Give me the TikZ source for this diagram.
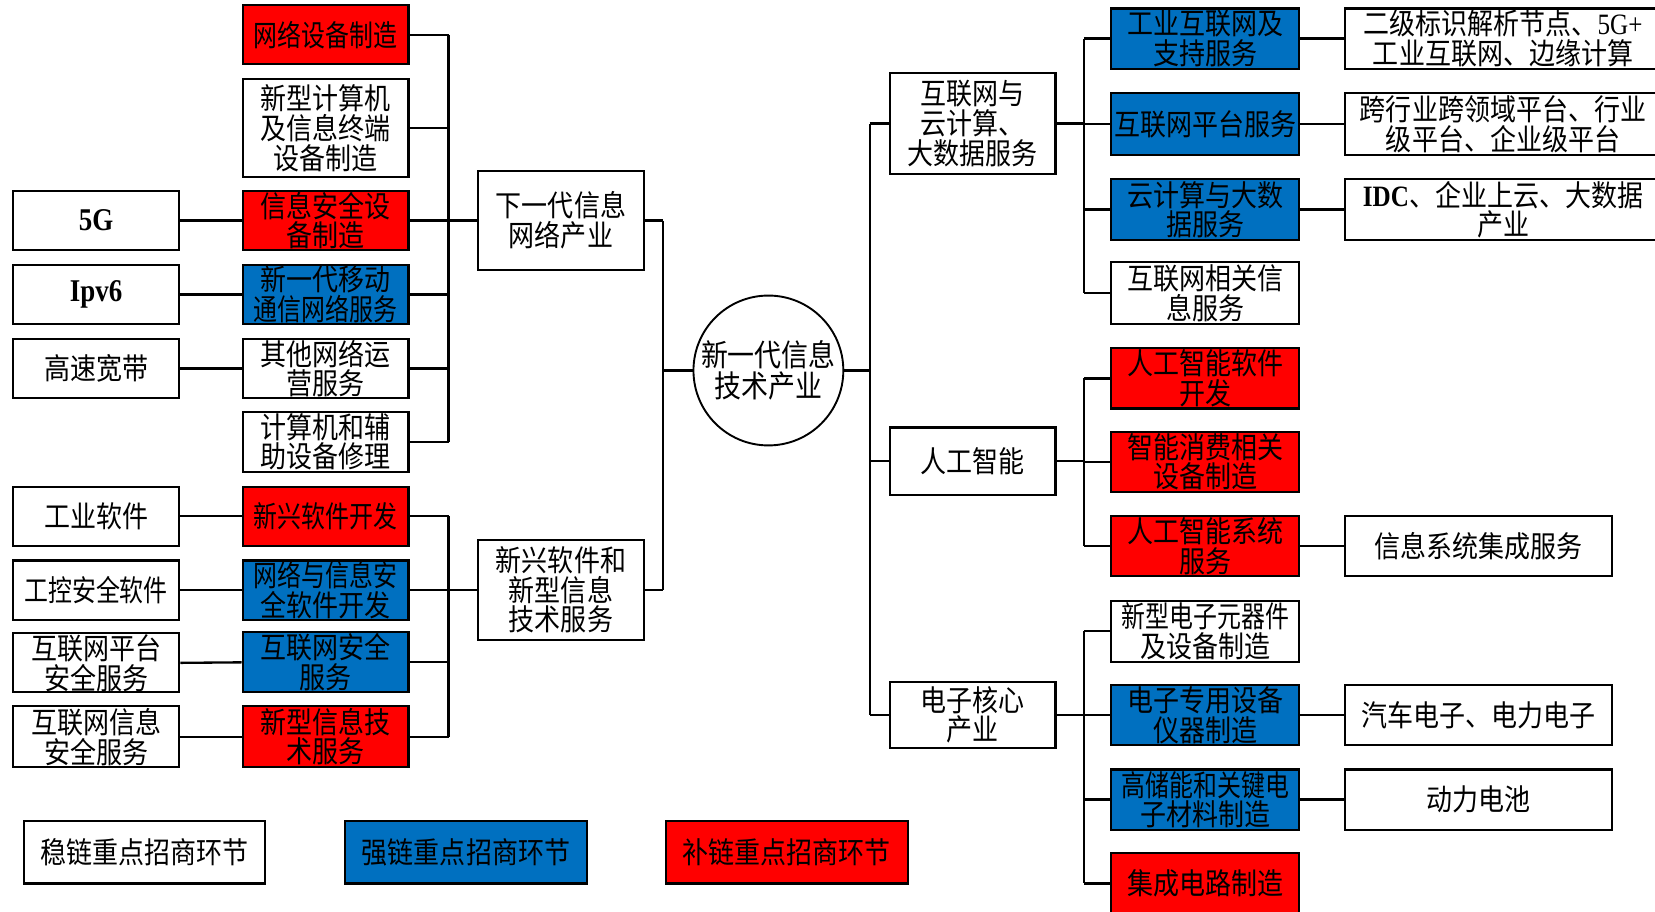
\documentclass[tikz,border=0pt]{standalone}
\usepackage{graphicx}
\usepackage{fontspec}
\setmainfont{Noto Sans CJK SC}[FakeStretch=0.88]
\newfontfamily\tnr{Liberation Serif}[FakeStretch=0.85]
\definecolor{chainblue}{HTML}{0070C0}
\definecolor{chainred}{HTML}{FF0000}
\tikzset{
  basebox/.style={draw=black, line width=1pt, inner sep=0pt, align=center,
    font=\fontsize{14}{12.5}\selectfont},
  wbox/.style={basebox, fill=white},
  rbox/.style={basebox, fill=chainred},
  bbox/.style={basebox, fill=chainblue},
  conn/.style={line width=1.1pt, black},
}
% name, x1, y1, x2, y2, style, text
\newcommand\bx[7]{%
  \node[#6, minimum width={(#4-#2)*0.5pt}, minimum height={(#5-#3)*0.5pt}]
    (#1) at ({(#2+#4)/2},{(#3+#5)/2}) {#7};}
\newcommand\sq[1]{\scalebox{0.92}[1]{#1}}
\begin{document}
\begin{tikzpicture}[x=0.5pt,y=-0.5pt]
\useasboundingbox (0,0) rectangle (1568,864);
% column 1
\bx{l1}{12}{181}{170}{237}{wbox}{{\tnr\bfseries\fontsize{15}{15}\selectfont 5G}}
\bx{l2}{12}{251}{170}{307}{wbox}{{\tnr\bfseries\fontsize{15}{15}\selectfont Ipv6}}
\bx{l3}{12}{321}{170}{377}{wbox}{高速宽带}
\bx{l4}{12}{461}{170}{517}{wbox}{工业软件}
\bx{l5}{12}{531}{170}{587}{wbox}{\sq{工控安全软件}}
\bx{l6}{12}{600}{170}{656}{wbox}{互联网平台\\安全服务}
\bx{l7}{12}{669}{170}{727}{wbox}{互联网信息\\安全服务}
% column 2
\bx{a1}{230}{5}{387}{61}{rbox}{\sq{网络设备制造}}
\bx{a2}{230}{75}{387}{168}{wbox}{新型计算机\\及信息终端\\设备制造}
\bx{a3}{230}{181}{387}{237}{rbox}{信息安全设\\备制造}
\bx{a4}{230}{251}{387}{307}{bbox}{新一代移动\\\sq{通信网络服务}}
\bx{a5}{230}{321}{387}{377}{wbox}{其他网络运\\营服务}
\bx{a6}{230}{390}{387}{447}{wbox}{计算机和辅\\助设备修理}
\bx{b1}{230}{461}{387}{517}{rbox}{\sq{新兴软件开发}}
\bx{b2}{230}{531}{387}{587}{bbox}{\sq{网络与信息安}\\全软件开发}
\bx{b3}{230}{599}{387}{656}{bbox}{互联网安全\\服务}
\bx{b4}{230}{669}{387}{727}{rbox}{新型信息技\\术服务}
% column 3
\bx{m1}{453}{162}{610}{256}{wbox}{下一代信息\\网络产业}
\bx{m2}{453}{512}{610}{606}{wbox}{新兴软件和\\新型信息\\技术服务}
% centre
\node[circle, draw=black, line width=0.9pt, fill=white, inner sep=0pt,
  minimum size=71pt, align=center, font=\fontsize{14.5}{13}\selectfont]
  (c) at (728,351) {新一代信息\\技术产业};
% right column 1
\bx{r1}{843}{69}{1000}{165}{wbox}{互联网与\\云计算、\\大数据服务}
\bx{r2}{843}{405}{1000}{469}{wbox}{人工智能}
\bx{r3}{843}{646}{1000}{709}{wbox}{电子核心\\产业}
% right column 2
\bx{s1}{1053}{8}{1231}{65}{bbox}{工业互联网及\\支持服务}
\bx{s2}{1053}{88}{1231}{147}{bbox}{互联网平台服务}
\bx{s3}{1053}{170}{1231}{227}{bbox}{云计算与大数\\据服务}
\bx{s4}{1053}{248}{1231}{307}{wbox}{互联网相关信\\息服务}
\bx{s5}{1053}{330}{1231}{387}{rbox}{人工智能软件\\开发}
\bx{s6}{1053}{409}{1231}{466}{rbox}{智能消费相关\\设备制造}
\bx{s7}{1053}{489}{1231}{546}{rbox}{人工智能系统\\服务}
\bx{s8}{1053}{569}{1231}{627}{wbox}{\sq{新型电子元器件}\\及设备制造}
\bx{s9}{1053}{649}{1231}{706}{bbox}{电子专用设备\\仪器制造}
\bx{s10}{1053}{729}{1231}{786}{bbox}{\sq{高储能和关键电}\\子材料制造}
\bx{s11}{1053}{808}{1231}{866}{rbox}{集成电路制造}
% right column 3
\bx{t1}{1274}{8}{1574}{65}{wbox}{二级标识解析节点、{\tnr 5G+}\\工业互联网、边缘计算}
\bx{t2}{1274}{88}{1574}{147}{wbox}{跨行业跨领域平台、行业\\级平台、企业级平台}
\bx{t3}{1274}{170}{1574}{227}{wbox}{{\tnr\bfseries IDC}、企业上云、大数据\\产业}
\bx{t7}{1274}{489}{1527}{546}{wbox}{信息系统集成服务}
\bx{t9}{1274}{649}{1527}{706}{wbox}{汽车电子、电力电子}
\bx{t10}{1274}{729}{1527}{786}{wbox}{动力电池}
% legend
\bx{g1}{23}{778}{251}{837}{wbox}{稳链重点招商环节}
\bx{g2}{327}{778}{556}{837}{bbox}{强链重点招商环节}
\bx{g3}{631}{778}{860}{837}{rbox}{补链重点招商环节}
% bus coordinates
\coordinate (busL) at (425,0);
\coordinate (busC) at (628,0);
\coordinate (busR) at (824,0);
\coordinate (busS) at (1027,0);
% column 1 to column 2
\draw[conn] (l1.east) -- (a3.west);
\draw[conn] (l2.east) -- (a4.west);
\draw[conn] (l3.east) -- (a5.west);
\draw[conn] (l4.east) -- (b1.west);
\draw[conn] (l5.east) -- (b2.west);
\draw[conn] (l6.east) -- (b3.west);
\draw[conn] (l7.east) -- (b4.west);
% group a
\foreach \n in {a1,a2,a3,a4,a5,a6}{\draw[conn] (\n.east) -- (\n.east -| busL);}
\draw[conn] (a1.east -| busL) -- (a6.east -| busL);
\draw[conn] (busL |- m1.west) -- (m1.west);
% group b
\foreach \n in {b1,b2,b3,b4}{\draw[conn] (\n.east) -- (\n.east -| busL);}
\draw[conn] (b1.east -| busL) -- (b4.east -| busL);
\draw[conn] (busL |- m2.west) -- (m2.west);
% to centre
\draw[conn] (m1.east) -- (m1.east -| busC);
\draw[conn] (m2.east) -- (m2.east -| busC);
\draw[conn] (m1.east -| busC) -- (m2.east -| busC);
\draw[conn] (busC |- c.west) -- (c.west);
% centre to right
\draw[conn] (c.east) -- (c.east -| busR);
\draw[conn] (busR |- r1.west) -- (busR |- r3.west);
\foreach \n in {r1,r2,r3}{\draw[conn] (busR |- \n.west) -- (\n.west);}
% right groups
\draw[conn] (r1.east) -- (r1.east -| busS);
\draw[conn] (busS |- s1.west) -- (busS |- s4.west);
\draw[conn] (r2.east) -- (r2.east -| busS);
\draw[conn] (busS |- s5.west) -- (busS |- s7.west);
\draw[conn] (r3.east) -- (r3.east -| busS);
\draw[conn] (busS |- s8.west) -- (busS |- s11.west);
\foreach \n in {s1,s2,s3,s4,s5,s6,s7,s8,s9,s10,s11}{\draw[conn] (busS |- \n.west) -- (\n.west);}
% to column 3
\draw[conn] (s1.east) -- (t1.west);
\draw[conn] (s2.east) -- (t2.west);
\draw[conn] (s3.east) -- (t3.west);
\draw[conn] (s7.east) -- (t7.west);
\draw[conn] (s9.east) -- (t9.west);
\draw[conn] (s10.east) -- (t10.west);
\end{tikzpicture}
\end{document}
